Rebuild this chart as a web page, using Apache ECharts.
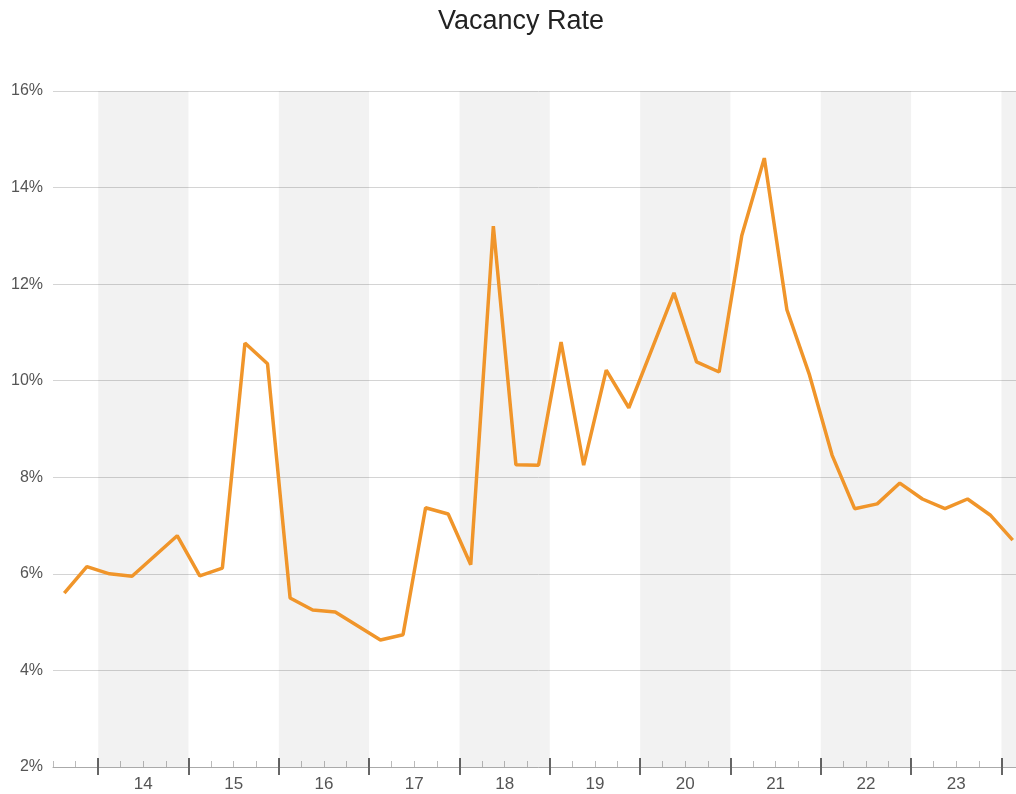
<!DOCTYPE html>
<html>
<head>
<meta charset="utf-8">
<title>Vacancy Rate</title>
<script src="https://cdn.jsdelivr.net/npm/echarts@6/dist/echarts.min.js"></script>
<style>
  html, body { margin: 0; padding: 0; background: #fff; overflow: hidden; }
  #wrap { width: 1016px; height: 794px; overflow: hidden; }
  /* the plot runs slightly past the right edge of the page */
  #chart { width: 1024px; height: 794px; }
</style>
</head>
<body>
<div id="wrap"><div id="chart"></div></div>
<script>
// Quarterly vacancy rate, 2013 Q3 to 2024 Q1
const quarters = [
  '13Q3','13Q4',
  '14Q1','14Q2','14Q3','14Q4',
  '15Q1','15Q2','15Q3','15Q4',
  '16Q1','16Q2','16Q3','16Q4',
  '17Q1','17Q2','17Q3','17Q4',
  '18Q1','18Q2','18Q3','18Q4',
  '19Q1','19Q2','19Q3','19Q4',
  '20Q1','20Q2','20Q3','20Q4',
  '21Q1','21Q2','21Q3','21Q4',
  '22Q1','22Q2','22Q3','22Q4',
  '23Q1','23Q2','23Q3','23Q4',
  '24Q1'
];
const vacancy = [
  5.6, 6.15,
  6.0, 5.95, 6.37, 6.79,
  5.96, 6.12, 10.78, 10.35,
  5.5, 5.25, 5.21, 4.92,
  4.63, 4.74, 7.37, 7.24,
  6.19, 13.2, 8.26, 8.25,
  10.8, 8.25, 10.22, 9.44,
  10.63, 11.82, 10.39, 10.18,
  13.0, 14.61, 11.47, 10.12,
  8.46, 7.35, 7.45, 7.88,
  7.55, 7.35, 7.55, 7.22,
  6.7
];
const yearLabels = ['14','15','16','17','18','19','20','21','22','23'];
const shadedYears = ['14','16','18','20','22','24'];
const yTicks = { min: 2, max: 16, step: 2 };

// x runs in quarter units: 0 = start of 13Q3, each quarter is 1 wide
const xMax = quarters.length;
const yearStart = y => (Number(y) - 14) * 4 + 2;
const points = vacancy.map((v, i) => [i + 0.5, v]);
const yearBounds = [];
for (let y = 14; y <= 24; y++) yearBounds.push(yearStart(y));
const yearCenters = yearLabels.map(y => yearStart(y) + 2);
const bands = shadedYears.map(y => [
  { xAxis: yearStart(y) },
  { xAxis: Math.min(yearStart(y) + 4, xMax) }
]);

const fontFamily = '"Liberation Sans", Arial, sans-serif';
const baseX = { type: 'value', min: 0, max: xMax, position: 'bottom',
  splitLine: { show: false }, axisPointer: { show: false } };

const chart = echarts.init(document.getElementById('chart'));
chart.setOption({
  animation: false,
  title: {
    text: 'Vacancy Rate', left: 433, top: 3,
    textStyle: { fontFamily, fontSize: 27, fontWeight: 'normal', color: '#222' }
  },
  grid: { left: 53, right: 0, top: 91, bottom: 27 },
  xAxis: [
    Object.assign({}, baseX, {
      axisLine: { show: true, lineStyle: { color: '#aaa', width: 1 } },
      axisTick: { show: true, customValues: yearBounds, length: 8,
        lineStyle: { color: '#666', width: 2 } },
      axisLabel: { show: true, customValues: yearCenters, margin: 9,
        fontFamily, fontSize: 17, color: '#555',
        formatter: v => String(13 + v / 4) }
    }),
    Object.assign({}, baseX, {
      interval: 1,
      axisLine: { show: false },
      axisTick: { show: true, inside: true, length: 6,
        lineStyle: { color: '#bbb', width: 1 } },
      axisLabel: { show: false }
    }),
    Object.assign({}, baseX, {
      axisLine: { show: false },
      axisTick: { show: true, inside: true, customValues: yearBounds, length: 9,
        lineStyle: { color: '#666', width: 2 } },
      axisLabel: { show: false }
    })
  ],
  yAxis: {
    type: 'value', min: yTicks.min, max: yTicks.max, interval: yTicks.step,
    axisLine: { show: false },
    axisTick: { show: false },
    axisLabel: { formatter: '{value}%', margin: 10, fontFamily, fontSize: 16, color: '#555' },
    splitLine: { lineStyle: { color: '#d4d4d4', width: 1 } }
  },
  series: [{
    type: 'line',
    xAxisIndex: 0,
    data: points,
    symbol: 'none',
    lineStyle: { color: '#f0952a', width: 3.5 },
    itemStyle: { color: '#f0952a' },
    markArea: {
      silent: true,
      itemStyle: { color: 'rgba(0,0,0,0.05)' },
      data: bands
    }
  }]
});
</script>
</body>
</html>
